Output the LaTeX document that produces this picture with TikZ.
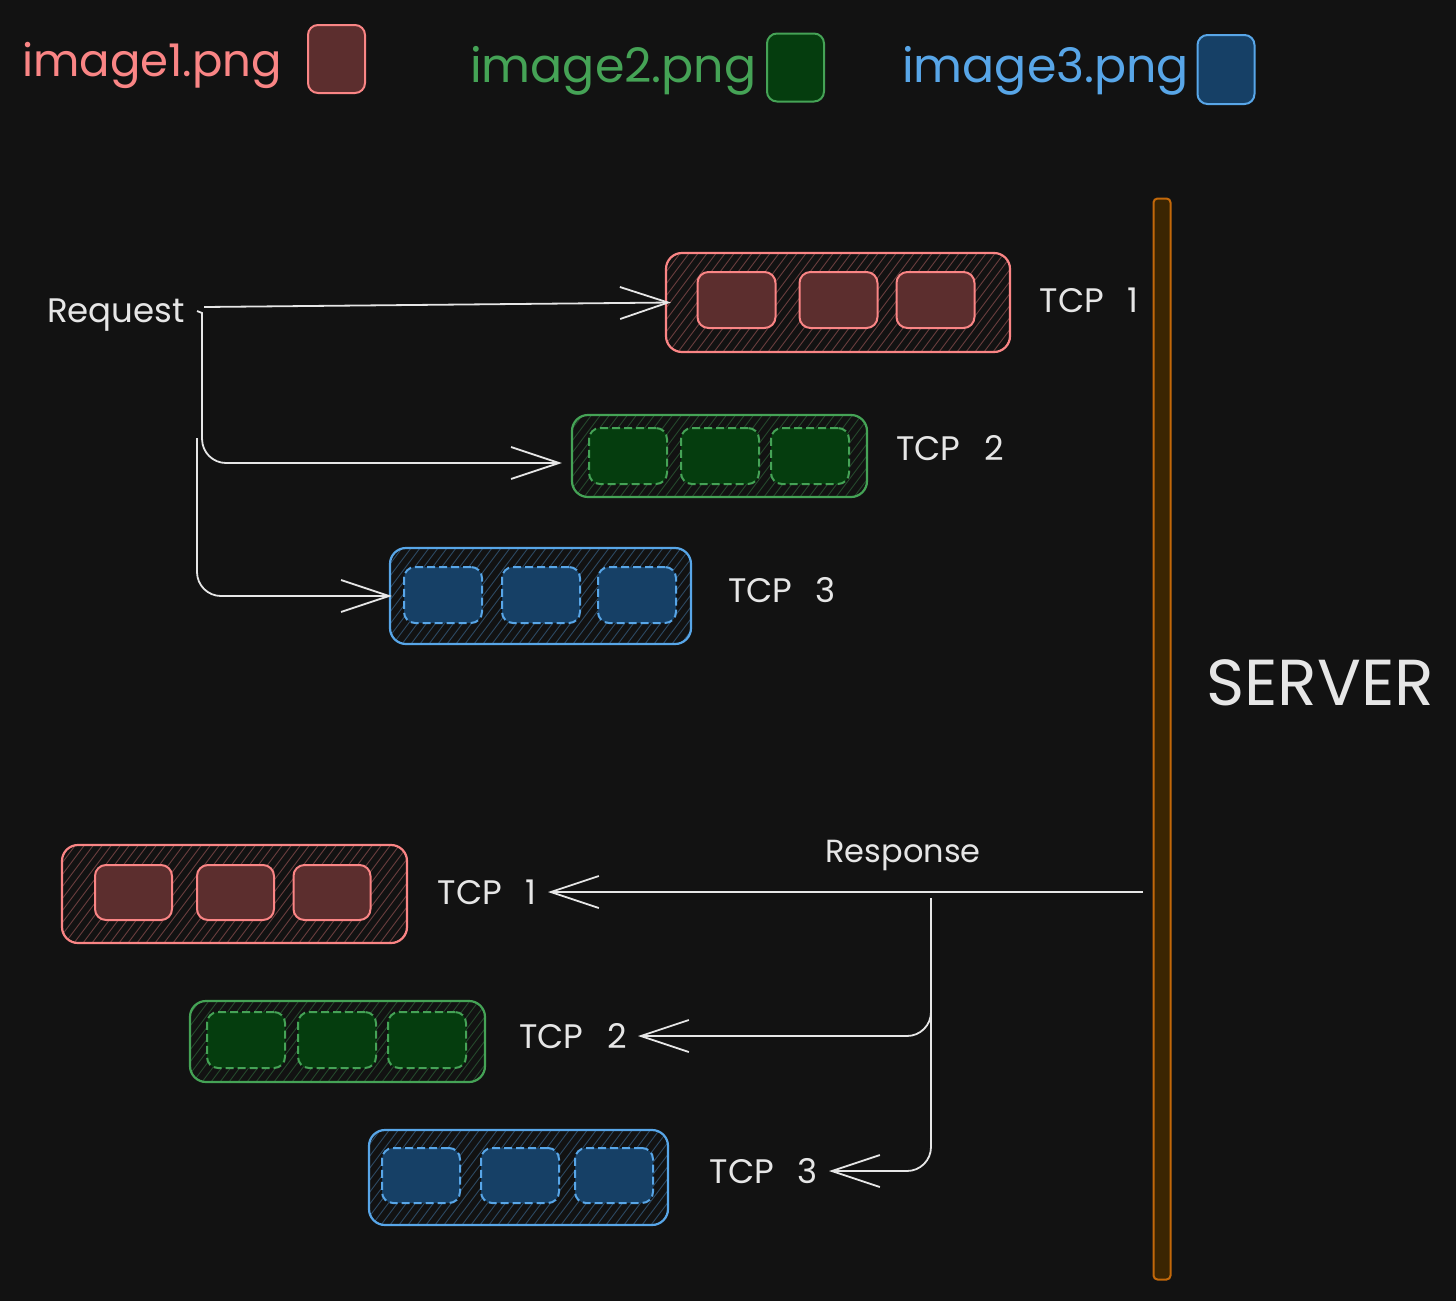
\documentclass[tikz,border=0pt]{standalone}
\usepackage{fontspec}
\setmainfont{Poppins}
\newfontfamily\lblfont[WordSpace=2.6]{Poppins}
\usetikzlibrary{arrows.meta}
\definecolor{bg}{HTML}{121212}
\definecolor{rs}{HTML}{FA8585}
\definecolor{rf}{HTML}{5C2E2E}
\definecolor{gs}{HTML}{45A356}
\definecolor{gf}{HTML}{053D0E}
\definecolor{bs}{HTML}{58A6E8}
\definecolor{bf}{HTML}{164066}
\definecolor{os}{HTML}{C2680A}
\definecolor{of}{HTML}{3B2502}
\definecolor{wt}{HTML}{E6E6E6}
\tikzset{
  outerbox/.style={draw=#1, line width=2.2pt, rounded corners=16pt, inner sep=0pt,
    path picture={\foreach \k in {0,...,60}{\draw[#1!38!bg, line width=0.9pt]
      ([xshift=\k*9pt-150pt]path picture bounding box.south west) -- ++(90pt,120pt);}}},
  innerbox/.style={draw=#1s, fill=#1f, line width=2pt, rounded corners=11pt, inner sep=0pt,
    minimum width=78pt, minimum height=56pt},
  dashbox/.style={innerbox=#1, dash pattern=on 8pt off 4pt},
  legendbox/.style={draw=#1s, fill=#1f, line width=2pt, rounded corners=10pt, inner sep=0pt,
    minimum width=57pt, minimum height=68pt},
  legendtxt/.style={text=#1, font=\fontsize{47.5}{54}\selectfont, inner sep=0pt, anchor=base west},
  lbl/.style={text=wt, font=\lblfont\fontsize{34}{38}\selectfont, inner ysep=2pt, inner xsep=11pt},
  conn/.style={draw=wt, line width=1.8pt},
  arr/.style={conn, -{Straight Barb[length=48pt,width=32pt,line width=1.8pt]}},
}
\begin{document}
\begin{tikzpicture}[x=1pt,y=-1pt]
\useasboundingbox (0,0) rectangle (1456,1301);
\fill[bg] (0,0) rectangle (1456,1301);

% legend
\node[legendtxt=rs, font=\fontsize{45}{52}\selectfont] (lg1) at (22,76) {image1.png};
\node[legendbox=r] (lgb1) at (336.5,59) {};
\node[legendtxt=gs] (lg2) at (470,82) {image2.png};
\node[legendbox=g] (lgb2) at (795.5,67.5) {};
\node[legendtxt=bs] (lg3) at (902,82) {image3.png};
\node[legendbox=b, minimum height=69pt] (lgb3) at (1226,69.5) {};

% server
\node[draw=os, fill=of, line width=2pt, rounded corners=4pt, inner sep=0pt,
      minimum width=17pt, minimum height=1081pt] (server) at (1162,739) {};
\node[text=wt, font=\fontsize{65}{72}\selectfont, inner sep=0pt] (srvlbl) at (1320,683) {SERVER};

% top group
\node[outerbox=rs, minimum width=344pt, minimum height=99pt] (t1) at (838,302.5) {};
\node[innerbox=r] (t1a) at (736.5,300) {};
\node[innerbox=r] (t1b) at (838.5,300) {};
\node[innerbox=r] (t1c) at (935.5,300) {};
\node[lbl] (t1l) at (1089,300) {TCP 1};

\node[outerbox=gs, minimum width=295pt, minimum height=82pt] (t2) at (719.5,456) {};
\node[dashbox=g] (t2a) at (628,456) {};
\node[dashbox=g] (t2b) at (720,456) {};
\node[dashbox=g] (t2c) at (810,456) {};
\node[lbl] (t2l) at (950,448) {TCP 2};

\node[outerbox=bs, minimum width=301pt, minimum height=96pt] (t3) at (540.5,596) {};
\node[dashbox=b] (t3a) at (443,595) {};
\node[dashbox=b] (t3b) at (541,595) {};
\node[dashbox=b] (t3c) at (637,595) {};
\node[lbl] (t3l) at (782,590) {TCP 3};

\node[text=wt, font=\fontsize{34}{38}\selectfont, inner sep=0pt, inner xsep=14pt] (req) at (116,315) {Request};
\coordinate (b2) at (197,438);

\draw[arr] ([xshift=5pt,yshift=8pt]req.east) -- ([xshift=6pt]t1.west);
\draw[arr, shorten >=9pt] ([xshift=-2pt,yshift=4pt]req.east) -- ++(5pt,-2pt)
   [rounded corners=24pt] |- ([yshift=-7pt]t2.west);
\draw[arr, rounded corners=24pt] (b2) |- ([xshift=3pt]t3.west);

% bottom group
\node[outerbox=rs, minimum width=345pt, minimum height=98pt] (b1) at (234.5,894) {};
\node[innerbox=r, minimum width=77pt, minimum height=55pt] (b1a) at (133.5,892.5) {};
\node[innerbox=r, minimum width=77pt, minimum height=55pt] (b1b) at (235.5,892.5) {};
\node[innerbox=r, minimum width=77pt, minimum height=55pt] (b1c) at (332,892.5) {};
\node[lbl, anchor=east] (b1l) at (548,892) {TCP 1};

\node[outerbox=gs, minimum width=295pt, minimum height=81pt] (b2box) at (337.5,1041.5) {};
\node[dashbox=g] (b2a) at (246,1040) {};
\node[dashbox=g] (b2b) at (337,1040) {};
\node[dashbox=g] (b2c) at (427,1040) {};
\node[lbl, anchor=east] (b2l) at (638,1036) {TCP 2};

\node[outerbox=bs, minimum width=299pt, minimum height=95pt] (b3) at (518.5,1177.5) {};
\node[dashbox=b, minimum height=55pt] (b3a) at (421,1175.5) {};
\node[dashbox=b, minimum height=55pt] (b3b) at (520,1175.5) {};
\node[dashbox=b, minimum height=55pt] (b3c) at (614,1175.5) {};
\node[lbl, anchor=east] (b3l) at (829,1171) {TCP 3};

\node[text=wt, font=\fontsize{32}{36}\selectfont, inner sep=0pt] (resp) at (903,855) {Response};
\coordinate (srv) at (1143,892);
\coordinate (rb) at (931,898);
\draw[arr] (srv) -- (b1l.east);
\draw[arr, rounded corners=24pt] (rb) |- (b2l.east);
\draw[arr, rounded corners=24pt] (rb) |- (b3l.east);
\end{tikzpicture}
\end{document}
